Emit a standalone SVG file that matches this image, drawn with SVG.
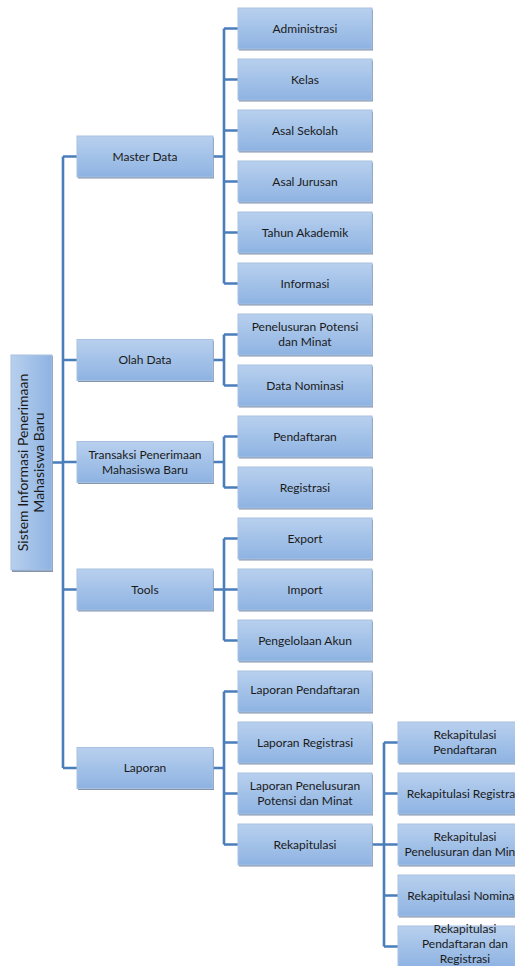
<svg xmlns="http://www.w3.org/2000/svg" width="515" height="966" viewBox="0 0 515 966">
<defs>
<linearGradient id="g" x1="0" y1="0" x2="0" y2="1">
<stop offset="0" stop-color="#B8D0EE"/>
<stop offset="1" stop-color="#8EB3E2"/>
</linearGradient>
<linearGradient id="gr" x1="0" y1="0" x2="1" y2="0">
<stop offset="0" stop-color="#B8D0EE"/>
<stop offset="1" stop-color="#8EB3E2"/>
</linearGradient>
</defs>
<style>
.b{fill:url(#g);stroke:#A9C1E0;stroke-width:1}
.s{fill:#5B7190;opacity:0.75}
.t{font-family:Lato,"Liberation Sans",sans-serif;font-size:12px;fill:#1a1a1a;text-anchor:middle}
.rt{font-family:Lato,"Liberation Sans",sans-serif;font-size:14px;fill:#1a1a1a;text-anchor:middle}
.c{fill:none;stroke:#4A7EBB;stroke-width:2.6}
</style>
<rect width="515" height="966" fill="#ffffff"/>
<g id="connectors">
<path class="c" d="M52 462.5H63M63 156.5V768M63 156.5H77M63 360H77M63 462H77M63 589.5H77M63 768H77"/>
<path class="c" d="M213 156.5H224M224 28.5V283.5M224 28.5H238M224 79.5H238M224 130.5H238M224 181.5H238M224 232.5H238M224 283.5H238"/>
<path class="c" d="M213 360H224M224 334.5V385.5M224 334.5H238M224 385.5H238"/>
<path class="c" d="M213 462H224M224 436.5V487.5M224 436.5H238M224 487.5H238"/>
<path class="c" d="M213 589.5H224M224 538.5V640.5M224 538.5H238M224 589.5H238M224 640.5H238"/>
<path class="c" d="M213 768H224M224 691.5V844.5M224 691.5H238M224 742.5H238M224 793.5H238M224 844.5H238"/>
<path class="c" d="M372 844.5H384M384 742.5V946.5M384 742.5H398M384 793.5H398M384 844.5H398M384 895.5H398M384 946.5H398"/>
</g>
<g id="root">
<rect class="s" x="12" y="356" width="41" height="216"/>
<rect x="11" y="355" width="41" height="215" fill="url(#gr)" stroke="#A9C1E0"/>
<text class="rt" transform="translate(28,462.5) rotate(-90)">Sistem Informasi Penerimaan</text>
<text class="rt" transform="translate(44,462.5) rotate(-90)">Mahasiswa Baru</text>
</g>
<g id="master-data"><rect class="s" x="78" y="137.5" width="136" height="41"/><rect class="b" x="77" y="136" width="136" height="41"/><text class="t" x="145" y="160.5">Master Data</text></g>
<g id="olah-data"><rect class="s" x="78" y="341" width="136" height="41"/><rect class="b" x="77" y="339.5" width="136" height="41"/><text class="t" x="145" y="364">Olah Data</text></g>
<g id="transaksi"><rect class="s" x="78" y="443" width="136" height="41"/><rect class="b" x="77" y="441.5" width="136" height="41"/><text class="t" x="145" y="458.5">Transaksi Penerimaan</text><text class="t" x="145" y="473.5">Mahasiswa Baru</text></g>
<g id="tools"><rect class="s" x="78" y="570.5" width="136" height="41"/><rect class="b" x="77" y="569" width="136" height="41"/><text class="t" x="145" y="593.5">Tools</text></g>
<g id="laporan"><rect class="s" x="78" y="749" width="136" height="41"/><rect class="b" x="77" y="747.5" width="136" height="41"/><text class="t" x="145" y="772">Laporan</text></g>

<g id="administrasi"><rect class="s" x="239" y="9.5" width="134" height="41"/><rect class="b" x="238" y="8" width="134" height="41"/><text class="t" x="305" y="32.5">Administrasi</text></g>
<g id="kelas"><rect class="s" x="239" y="60.5" width="134" height="41"/><rect class="b" x="238" y="59" width="134" height="41"/><text class="t" x="305" y="83.5">Kelas</text></g>
<g id="asal-sekolah"><rect class="s" x="239" y="111.5" width="134" height="41"/><rect class="b" x="238" y="110" width="134" height="41"/><text class="t" x="305" y="134.5">Asal Sekolah</text></g>
<g id="asal-jurusan"><rect class="s" x="239" y="162.5" width="134" height="41"/><rect class="b" x="238" y="161" width="134" height="41"/><text class="t" x="305" y="185.5">Asal Jurusan</text></g>
<g id="tahun-akademik"><rect class="s" x="239" y="213.5" width="134" height="41"/><rect class="b" x="238" y="212" width="134" height="41"/><text class="t" x="305" y="236.5">Tahun Akademik</text></g>
<g id="informasi"><rect class="s" x="239" y="264.5" width="134" height="41"/><rect class="b" x="238" y="263" width="134" height="41"/><text class="t" x="305" y="287.5">Informasi</text></g>
<g id="penelusuran"><rect class="s" x="239" y="315.5" width="134" height="41"/><rect class="b" x="238" y="314" width="134" height="41"/><text class="t" x="305" y="331">Penelusuran Potensi</text><text class="t" x="305" y="346">dan Minat</text></g>
<g id="data-nominasi"><rect class="s" x="239" y="366.5" width="134" height="41"/><rect class="b" x="238" y="365" width="134" height="41"/><text class="t" x="305" y="389.5">Data Nominasi</text></g>
<g id="pendaftaran"><rect class="s" x="239" y="417.5" width="134" height="41"/><rect class="b" x="238" y="416" width="134" height="41"/><text class="t" x="305" y="440.5">Pendaftaran</text></g>
<g id="registrasi"><rect class="s" x="239" y="468.5" width="134" height="41"/><rect class="b" x="238" y="467" width="134" height="41"/><text class="t" x="305" y="491.5">Registrasi</text></g>
<g id="export"><rect class="s" x="239" y="519.5" width="134" height="41"/><rect class="b" x="238" y="518" width="134" height="41"/><text class="t" x="305" y="542.5">Export</text></g>
<g id="import"><rect class="s" x="239" y="570.5" width="134" height="41"/><rect class="b" x="238" y="569" width="134" height="41"/><text class="t" x="305" y="593.5">Import</text></g>
<g id="pengelolaan-akun"><rect class="s" x="239" y="621.5" width="134" height="41"/><rect class="b" x="238" y="620" width="134" height="41"/><text class="t" x="305" y="644.5">Pengelolaan Akun</text></g>
<g id="laporan-pendaftaran"><rect class="s" x="239" y="672.5" width="134" height="41"/><rect class="b" x="238" y="671" width="134" height="41"/><text class="t" x="305" y="693.5">Laporan Pendaftaran</text></g>
<g id="laporan-registrasi"><rect class="s" x="239" y="723.5" width="134" height="41"/><rect class="b" x="238" y="722" width="134" height="41"/><text class="t" x="305" y="746.5">Laporan Registrasi</text></g>
<g id="laporan-penelusuran"><rect class="s" x="239" y="774.5" width="134" height="41"/><rect class="b" x="238" y="773" width="134" height="41"/><text class="t" x="305" y="790">Laporan Penelusuran</text><text class="t" x="305" y="805">Potensi dan Minat</text></g>
<g id="rekapitulasi"><rect class="s" x="239" y="825.5" width="134" height="41"/><rect class="b" x="238" y="824" width="134" height="41"/><text class="t" x="305" y="848.5">Rekapitulasi</text></g>

<g id="rekap-pendaftaran"><rect class="s" x="399" y="723.5" width="134" height="41"/><rect class="b" x="398" y="722" width="134" height="41"/><text class="t" x="465" y="739">Rekapitulasi</text><text class="t" x="465" y="754">Pendaftaran</text></g>
<g id="rekap-registrasi"><rect class="s" x="399" y="774.5" width="134" height="41"/><rect class="b" x="398" y="773" width="134" height="41"/><text class="t" x="465" y="797.5">Rekapitulasi Registrasi</text></g>
<g id="rekap-penelusuran"><rect class="s" x="399" y="825.5" width="134" height="41"/><rect class="b" x="398" y="824" width="134" height="41"/><text class="t" x="465" y="841">Rekapitulasi</text><text class="t" x="465" y="856">Penelusuran dan Minat</text></g>
<g id="rekap-nominasi"><rect class="s" x="399" y="876.5" width="134" height="41"/><rect class="b" x="398" y="875" width="134" height="41"/><text class="t" x="465" y="899.5">Rekapitulasi Nominasi</text></g>
<g id="rekap-pendaftaran-registrasi"><rect class="s" x="399" y="927.5" width="134" height="41"/><rect class="b" x="398" y="926" width="134" height="41"/><text class="t" x="465" y="933">Rekapitulasi</text><text class="t" x="465" y="948">Pendaftaran dan</text><text class="t" x="465" y="963">Registrasi</text></g>
</svg>
